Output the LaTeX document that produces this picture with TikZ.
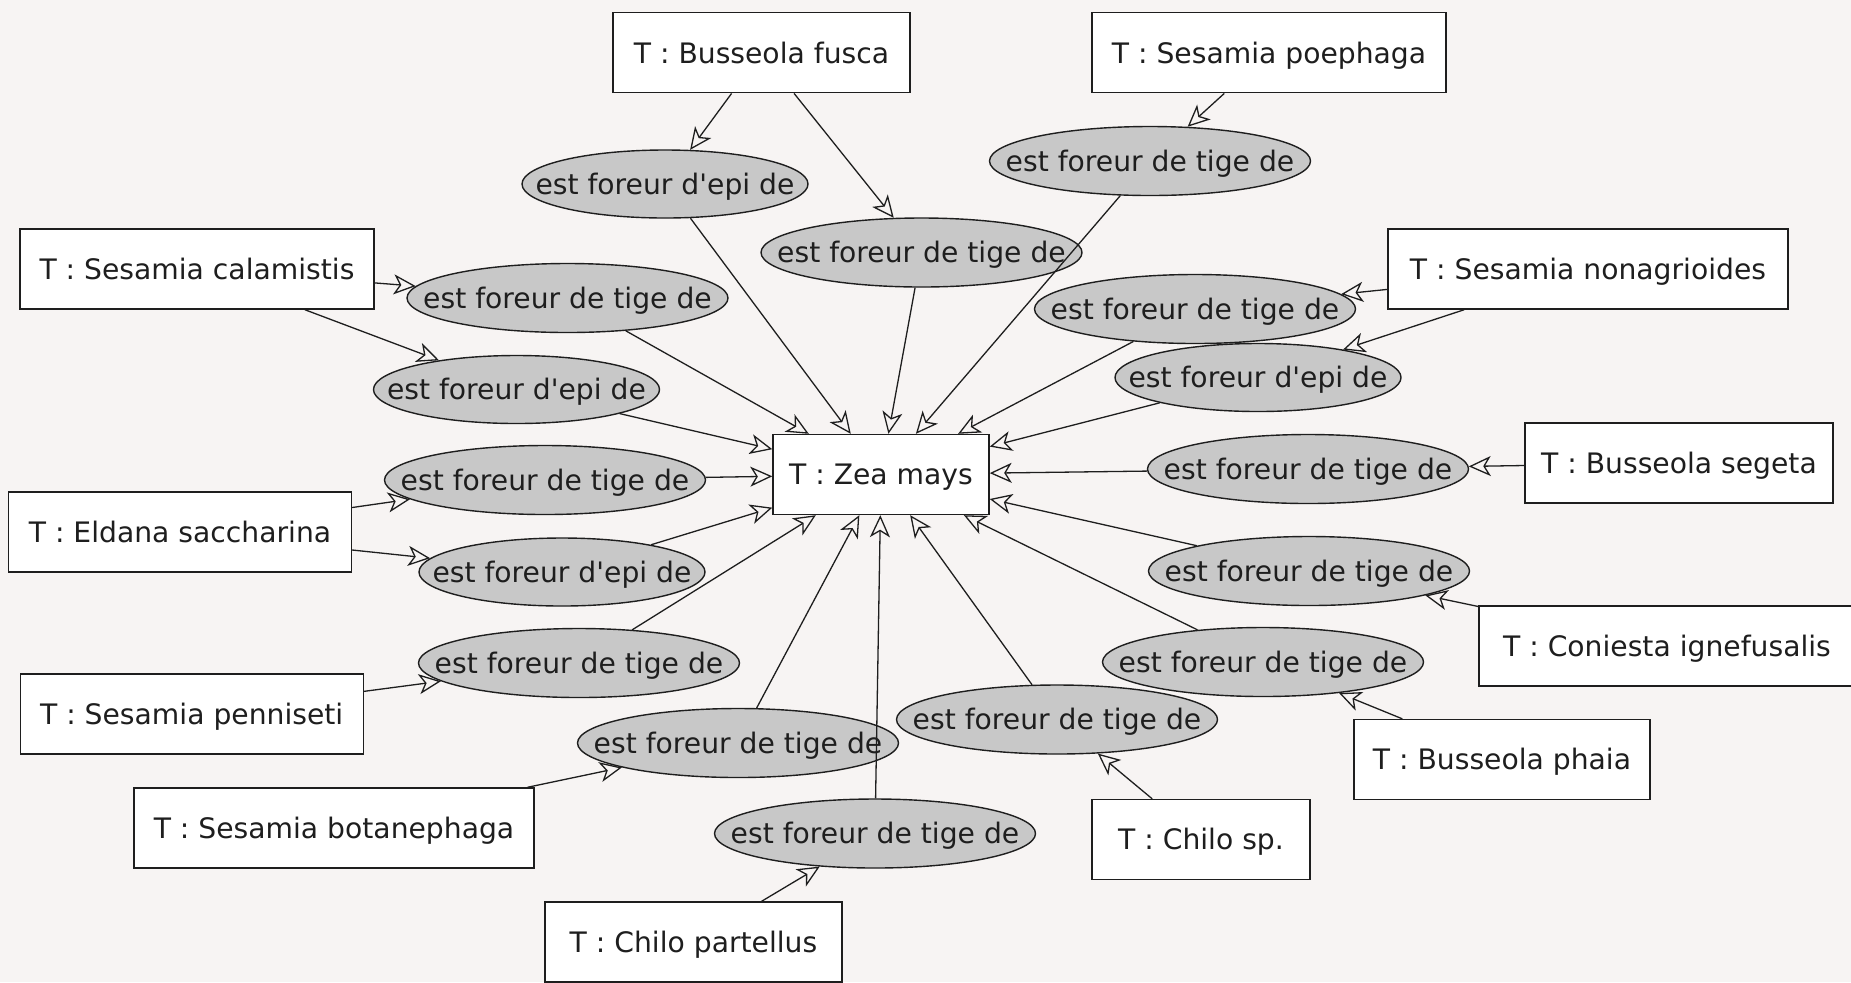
\documentclass[tikz,border=0pt]{standalone}
\usepackage{fontspec}
% plain family without TeX ligature mapping, so ' stays a straight quote
\newfontfamily\labelfont{DejaVu Sans}
\usetikzlibrary{shapes.geometric,arrows.meta}
\definecolor{canvas}{HTML}{F7F4F3}
\definecolor{relfill}{HTML}{C8C8C8}
\definecolor{ink}{HTML}{1E1E1E}
\tikzset{
  label text/.style={text=ink, text height=10.3pt, text depth=0pt,
    font=\labelfont\fontsize{14.1pt}{17pt}\selectfont},
  taxon/.style={draw=ink, fill=white, line width=0.7pt, inner sep=0pt,
    minimum height=40pt, label text},
  relation/.style={ellipse, draw=ink, fill=relfill, line width=0.7pt, inner sep=0pt,
    label text},
  tige/.style={relation, minimum width=160.5pt, minimum height=34.5pt},
  epi/.style={relation, minimum width=143pt, minimum height=34pt},
  link/.style={draw=ink, line width=0.65pt,
    -{Stealth[open, length=11pt, width=10pt, inset=3pt, line width=0.65pt]}},
}
\newcommand{\tigetext}{\makebox[0pt]{est foreur de tige de}}
\newcommand{\epitext}{\makebox[0pt]{est foreur d'epi de}}
\begin{document}
\begin{tikzpicture}[x=0.5pt, y=-0.5pt]
  \useasboundingbox (0,0) rectangle (1851,982);
  \fill[canvas] (0,0) rectangle (1851,982);

  % host plant
  \node[taxon, minimum width=108pt] (zea) at (881,474.5) {T : Zea mays};

  % borers
  \node[taxon, minimum width=148.5pt] (fusca) at (761.5,52.7) {T : Busseola fusca};
  \node[taxon, minimum width=177pt] (poephaga) at (1269,52.7) {T : Sesamia poephaga};
  \node[taxon, minimum width=177pt] (calamistis) at (197,269) {T : Sesamia calamistis};
  \node[taxon, minimum width=200pt] (nonag) at (1588,269) {T : Sesamia nonagrioides};
  \node[taxon, minimum width=171.5pt] (eldana) at (180,532) {T : Eldana saccharina};
  \node[taxon, minimum width=154pt] (segeta) at (1679,463) {T : Busseola segeta};
  \node[taxon, minimum width=188pt] (coniesta) at (1667,646) {T : Coniesta ignefusalis};
  \node[taxon, minimum width=171.5pt] (penniseti) at (191.7,714) {T : Sesamia penniseti};
  \node[taxon, minimum width=200pt] (botane) at (334,828) {T : Sesamia botanephaga};
  \node[taxon, minimum width=148.5pt] (partellus) at (693.5,942) {T : Chilo partellus};
  \node[taxon, minimum width=109pt] (chilosp) at (1201,839.5) {T : Chilo sp.};
  \node[taxon, minimum width=148pt] (phaia) at (1502,759.5) {T : Busseola phaia};

  % relations
  \node[epi]  (r1)  at (665,184)     {\epitext};
  \node[tige] (r2)  at (921.5,252.5) {\tigetext};
  \node[tige] (r3)  at (1150,161)    {\tigetext};
  \node[tige] (r4)  at (567.5,298)   {\tigetext};
  \node[epi]  (r5)  at (516.5,389.5) {\epitext};
  \node[tige] (r6)  at (1195,309)    {\tigetext};
  \node[epi]  (r7)  at (1258,377.5)  {\epitext};
  \node[tige] (r8)  at (545,480)     {\tigetext};
  \node[epi]  (r9)  at (562,572)     {\epitext};
  \node[tige] (r10) at (1308,469)    {\tigetext};
  \node[tige] (r11) at (1309,571)    {\tigetext};
  \node[tige] (r12) at (1263,662)    {\tigetext};
  \node[tige] (r13) at (1057,719.5)  {\tigetext};
  \node[tige] (r14) at (579,663)     {\tigetext};
  \node[tige] (r15) at (738,743)     {\tigetext};
  \node[tige] (r16) at (875,833.5)   {\tigetext};

  % borer -> relation
  \draw[link] (fusca) -- (r1);
  \draw[link] (fusca) -- (r2);
  \draw[link] (poephaga) -- (r3);
  \draw[link] (calamistis) -- (r4);
  \draw[link] (calamistis) -- (r5);
  \draw[link] (nonag) -- (r6);
  \draw[link] (nonag) -- (r7);
  \draw[link] (eldana) -- (r8);
  \draw[link] (eldana) -- (r9);
  \draw[link] (segeta) -- (r10);
  \draw[link] (coniesta) -- (r11);
  \draw[link] (phaia) -- (r12);
  \draw[link] (chilosp) -- (r13);
  \draw[link] (penniseti) -- (r14);
  \draw[link] (botane) -- (r15);
  \draw[link] (partellus) -- (r16);

  % relation -> host plant
  \foreach \r in {r1,r2,r3,r4,r5,r6,r7,r8,r9,r10,r11,r12,r13,r14,r15,r16}
    \draw[link] (\r) -- (zea);
\end{tikzpicture}
\end{document}
